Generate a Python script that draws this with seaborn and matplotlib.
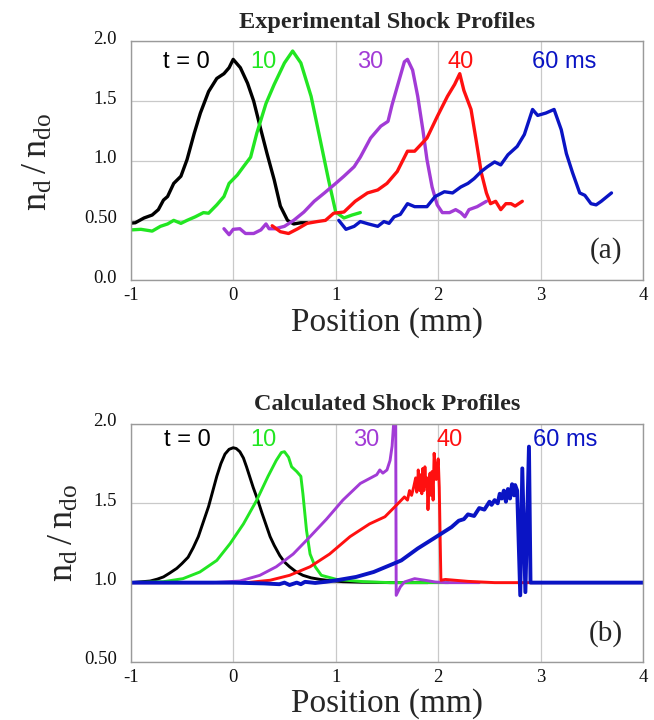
import matplotlib
matplotlib.use("Agg")
import matplotlib.pyplot as plt
import matplotlib.transforms as mtransforms
import pandas as pd
import seaborn as sns

# ---- experimental profiles (panel a) ----
exp_t0_x = [-1.01, -0.955, -0.87, -0.79, -0.73, -0.68, -0.64, -0.58, -0.51, -0.45, -0.38, -0.32,
            -0.24, -0.16, -0.09, -0.04, 0.0, 0.07, 0.14, 0.20, 0.27, 0.33, 0.40, 0.46, 0.53,
            0.59, 0.66, 0.72]
exp_t0_y = [0.476, 0.48, 0.52, 0.545, 0.59, 0.67, 0.70, 0.81, 0.87, 1.01, 1.23, 1.40,
            1.58, 1.69, 1.73, 1.78, 1.85, 1.78, 1.65, 1.50, 1.26, 1.06, 0.84, 0.62, 0.50,
            0.47, 0.48, 0.48]

exp_t10_x = [-1.0, -0.9, -0.79, -0.71, -0.64, -0.58, -0.51, -0.45, -0.37, -0.29, -0.24, -0.16,
             -0.09, -0.04, 0.04, 0.10, 0.17, 0.23, 0.32, 0.40, 0.50, 0.58, 0.66, 0.76, 0.85,
             0.93, 1.0, 1.08, 1.16, 1.24]
exp_t10_y = [0.42, 0.425, 0.41, 0.45, 0.47, 0.50, 0.475, 0.50, 0.53, 0.565, 0.56, 0.63,
             0.70, 0.81, 0.88, 0.95, 1.03, 1.23, 1.48, 1.64, 1.82, 1.92, 1.82, 1.54, 1.17,
             0.84, 0.57, 0.52, 0.545, 0.565]

exp_t30_x = [-0.09, -0.04, 0.0, 0.065, 0.12, 0.2, 0.27, 0.32, 0.35, 0.41, 0.5, 0.59, 0.69,
             0.79, 0.89, 1.0, 1.08, 1.18, 1.24, 1.34, 1.44, 1.51, 1.55, 1.62, 1.67, 1.70,
             1.75, 1.80, 1.85, 1.89, 1.94, 1.99, 2.04, 2.11, 2.17, 2.22, 2.26, 2.30, 2.38, 2.47]
exp_t30_y = [0.43, 0.38, 0.425, 0.43, 0.39, 0.39, 0.42, 0.47, 0.43, 0.43, 0.45, 0.50, 0.57,
             0.66, 0.73, 0.81, 0.87, 0.95, 1.03, 1.19, 1.29, 1.33, 1.47, 1.68, 1.83, 1.85,
             1.76, 1.54, 1.26, 1.01, 0.78, 0.63, 0.565, 0.565, 0.59, 0.565, 0.53, 0.59, 0.615, 0.66]

exp_t40_x = [0.38, 0.46, 0.54, 0.63, 0.72, 0.82, 0.90, 0.98, 1.08, 1.19, 1.31, 1.41, 1.50,
             1.60, 1.70, 1.77, 1.89, 1.99, 2.09, 2.16, 2.21, 2.25, 2.32, 2.37, 2.42, 2.47,
             2.51, 2.56, 2.61, 2.66, 2.71, 2.75, 2.82]
exp_t40_y = [0.455, 0.405, 0.39, 0.43, 0.475, 0.49, 0.50, 0.56, 0.57, 0.66, 0.73, 0.755, 0.81,
             0.91, 1.08, 1.08, 1.19, 1.37, 1.54, 1.64, 1.73, 1.59, 1.43, 1.17, 0.90, 0.73,
             0.64, 0.66, 0.59, 0.64, 0.64, 0.62, 0.66]

exp_t60_x = [1.03, 1.10, 1.18, 1.24, 1.32, 1.41, 1.47, 1.52, 1.57, 1.63, 1.70, 1.77, 1.89,
             1.97, 2.06, 2.14, 2.22, 2.29, 2.35, 2.42, 2.48, 2.55, 2.61, 2.68, 2.77, 2.84,
             2.92, 2.97, 3.05, 3.13, 3.20, 3.25, 3.31, 3.38, 3.43, 3.49, 3.54, 3.59, 3.69]
exp_t60_y = [0.50, 0.425, 0.45, 0.49, 0.47, 0.45, 0.49, 0.475, 0.53, 0.55, 0.64, 0.615, 0.615,
             0.70, 0.74, 0.73, 0.78, 0.81, 0.85, 0.91, 0.95, 0.99, 0.965, 1.05, 1.12, 1.22,
             1.43, 1.38, 1.40, 1.43, 1.26, 1.06, 0.90, 0.73, 0.71, 0.64, 0.63, 0.66, 0.73]

# ---- calculated profiles (panel b) ----
calc_t0_x = [-1.0, -0.9, -0.81, -0.74, -0.68, -0.62, -0.55, -0.50, -0.44, -0.39, -0.34, -0.29,
             -0.24, -0.20, -0.16, -0.12, -0.08, -0.04, 0.0, 0.03, 0.065, 0.10, 0.13, 0.16,
             0.195, 0.24, 0.28, 0.32, 0.36, 0.40, 0.455, 0.50, 0.55, 0.61, 0.68, 0.76, 0.85,
             0.95, 1.07, 1.25, 1.53, 1.9]
calc_t0_y = [1.0, 1.005, 1.01, 1.022, 1.036, 1.06, 1.09, 1.12, 1.16, 1.22, 1.29, 1.385,
             1.48, 1.575, 1.67, 1.75, 1.81, 1.84, 1.85, 1.845, 1.825, 1.785, 1.73, 1.67,
             1.60, 1.52, 1.44, 1.365, 1.29, 1.235, 1.17, 1.13, 1.10, 1.07, 1.046, 1.03, 1.02,
             1.012, 1.006, 1.003, 1.0, 1.0]

calc_t10_x = [-1.0, -0.68, -0.49, -0.325, -0.16, -0.03, 0.10, 0.23, 0.34, 0.42, 0.47, 0.50,
              0.54, 0.57, 0.62, 0.66, 0.68, 0.715, 0.75, 0.80, 0.86, 1.01, 1.27, 1.53, 2.1]
calc_t10_y = [1.0, 1.006, 1.025, 1.067, 1.14, 1.246, 1.37, 1.52, 1.67, 1.77, 1.82, 1.825,
              1.79, 1.73, 1.70, 1.67, 1.56, 1.33, 1.18, 1.10, 1.046, 1.02, 1.006, 1.0, 1.0]

calc_t30_x = [-1.0, -0.195, 0.065, 0.26, 0.42, 0.585, 0.75, 0.91, 1.07, 1.24, 1.40, 1.43,
              1.46, 1.50, 1.53, 1.55, 1.57, 1.585, 1.59, 1.63, 1.67, 1.77, 1.87, 1.97, 2.07, 2.4]
calc_t30_y = [1.0, 1.0, 1.01, 1.046, 1.10, 1.18, 1.29, 1.40, 1.52, 1.625, 1.68, 1.71,
              1.69, 1.71, 1.77, 1.86, 2.05, 2.05, 0.92, 0.973, 1.004, 1.025, 1.015, 1.004, 1.0, 1.0]

calc_t40_x = [-1.0, 0.13, 0.36, 0.55, 0.75, 0.94, 1.14, 1.33, 1.48, 1.58, 1.67, 1.70, 1.72,
              1.74, 1.76, 1.78, 1.79, 1.80, 1.805, 1.82, 1.83, 1.84, 1.85, 1.86, 1.87, 1.88,
              1.89, 1.90, 1.91, 1.92, 1.93, 1.94, 1.95, 1.96, 1.98, 2.0, 2.01, 2.026, 2.07,
              2.29, 2.55, 4.0]
calc_t40_y = [1.0, 1.0, 1.015, 1.046, 1.10, 1.18, 1.29, 1.37, 1.415, 1.48, 1.54, 1.52, 1.58,
              1.55, 1.60, 1.66, 1.57, 1.62, 1.71, 1.58, 1.68, 1.56, 1.72, 1.58, 1.73, 1.61,
              1.66, 1.46, 1.62, 1.69, 1.55, 1.70, 1.52, 1.815, 1.65, 1.78, 1.60, 1.015, 1.02,
              1.008, 1.0, 1.0]

calc_t60_x = [-1.0, 0.0, 0.3, 0.45, 0.5, 0.55, 0.62, 0.66, 0.70, 0.8, 0.9, 1.01, 1.2, 1.37,
              1.53, 1.64, 1.80, 1.96, 2.13, 2.20, 2.25, 2.29, 2.35, 2.40, 2.45, 2.50, 2.52,
              2.55, 2.58, 2.60, 2.62, 2.64, 2.66, 2.68, 2.70, 2.72, 2.74, 2.75, 2.77, 2.80,
              2.82, 2.85, 2.885, 2.90, 4.0]
calc_t60_y = [1.0, 1.0, 0.995, 0.99, 1.0, 0.985, 1.0, 0.99, 1.005, 0.998, 1.005, 1.015, 1.036,
              1.067, 1.11, 1.14, 1.215, 1.28, 1.35, 1.39, 1.40, 1.43, 1.42, 1.47, 1.46, 1.51,
              1.49, 1.52, 1.50, 1.56, 1.53, 1.58, 1.51, 1.59, 1.53, 1.62, 1.55, 1.615, 1.58,
              0.92, 1.72, 0.94, 1.857, 1.0, 1.0]

series_names = ["t0", "t10", "t30", "t40", "t60"]
series_labels = ["t = 0", "10", "30", "40", "60 ms"]
colors = ["#000000", "#22e622", "#a23bd6", "#ff1010", "#0a14c4"]
label_x_a = [-0.46, 0.29, 1.34, 2.22, 3.23]
label_x_b = [-0.45, 0.29, 1.30, 2.11, 3.24]


def long_frame(xs, ys):
    parts = []
    for name, x, y in zip(series_names, xs, ys):
        parts.append(pd.DataFrame({"x": x, "y": y, "curve": name}))
    return pd.concat(parts, ignore_index=True)


exp_df = long_frame([exp_t0_x, exp_t10_x, exp_t30_x, exp_t40_x, exp_t60_x],
                    [exp_t0_y, exp_t10_y, exp_t30_y, exp_t40_y, exp_t60_y])
calc_df = long_frame([calc_t0_x, calc_t10_x, calc_t30_x, calc_t40_x, calc_t60_x],
                     [calc_t0_y, calc_t10_y, calc_t30_y, calc_t40_y, calc_t60_y])

sns.set_theme(style="whitegrid")
plt.rcParams["font.family"] = ["Liberation Serif", "DejaVu Serif"]
plt.rcParams["mathtext.fontset"] = "custom"
plt.rcParams["mathtext.rm"] = "Liberation Serif"
plt.rcParams["lines.solid_joinstyle"] = "round"

palette = dict(zip(series_names, colors))

fig = plt.figure(figsize=(6.54, 7.2), dpi=100)
ax_a = fig.add_axes([0.1998, 0.6111, 0.7838, 0.3313])
ax_b = fig.add_axes([0.1998, 0.0806, 0.7838, 0.3306])


def style_axes(ax, title, yticks, yticklabels, ylim, label_x, label_y, tag, tag_xy, ylab_xy):
    ax.set_facecolor("white")
    ax.set_xlim(-1, 4)
    ax.set_ylim(*ylim)
    ax.set_xticks([-1, 0, 1, 2, 3, 4])
    ax.set_xticklabels(["-1", "0", "1", "2", "3", "4"])
    ax.set_yticks(yticks)
    ax.set_yticklabels(yticklabels)
    ax.grid(True, color="#c9c9c9", linewidth=0.9)
    for sp in ax.spines.values():
        sp.set_color("#9a9a9a")
        sp.set_linewidth(1.0)
    ax.tick_params(axis="both", length=0, labelsize=13.5, colors="#111111")
    ax.tick_params(axis="x", pad=5)
    ax.tick_params(axis="y", pad=10)
    offset = mtransforms.ScaledTranslation(0, 0.04, fig.dpi_scale_trans)
    for lab in ax.get_yticklabels():
        lab.set_transform(lab.get_transform() + offset)
    ax.set_title(title, fontsize=17.5, fontweight="bold", pad=10)
    ax.set_xlabel("Position (mm)", fontsize=24, labelpad=2)
    ax.set_ylabel(r"$\mathregular{n_d\,/\,n_{do}}$", fontsize=26, va="center")
    ax.yaxis.set_label_coords(*ylab_xy)
    for lab, x, c in zip(series_labels, label_x, colors):
        ax.text(x, label_y, lab, color=c, fontsize=17, ha="center", va="center",
                family=["Liberation Sans", "DejaVu Sans"])
    ax.text(tag_xy[0], tag_xy[1], tag, fontsize=21, ha="center", va="center")


sns.lineplot(data=exp_df, x="x", y="y", hue="curve", estimator=None,
             sort=False, palette=palette, linewidth=2.4, legend=False, ax=ax_a)
sns.lineplot(data=calc_df, x="x", y="y", hue="curve", estimator=None,
             sort=False, palette=palette, linewidth=2.1, legend=False, ax=ax_b)
ax_b.lines[-1].set_linewidth(2.8)

style_axes(ax_a, "Experimental Shock Profiles", [0, 0.5, 1.0, 1.5, 2.0],
           ["0.0", "0.50", "1.0", "1.5", "2.0"], (0, 2.0), label_x_a, 1.83, "(a)", (3.64, 0.25),
           (-0.181, 0.495))
style_axes(ax_b, "Calculated Shock Profiles", [0.5, 1.0, 1.5, 2.0],
           ["0.50", "1.0", "1.5", "2.0"], (0.5, 2.0), label_x_b, 1.90, "(b)", (3.63, 0.68),
           (-0.130, 0.542))

fig.savefig("out.png", dpi=100)
